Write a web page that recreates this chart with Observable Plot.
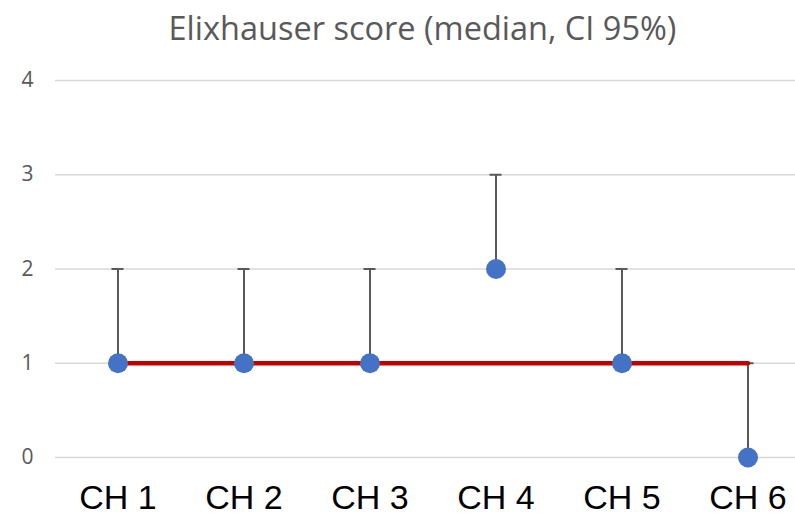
<!DOCTYPE html>
<html>
<head>
<meta charset="utf-8">
<script src="https://cdn.jsdelivr.net/npm/d3@7"></script>
<script src="https://cdn.jsdelivr.net/npm/@observablehq/plot@0.6"></script>
<style>
  html, body { margin: 0; padding: 0; background: #fff; }
  #wrap { width: 795px; height: 518px; overflow: hidden; }
  #title { height: 60px; line-height: 56px; text-align: center; font-family: "Open Sans", sans-serif; font-weight: 400; font-size: 32.5px; color: #595959; padding-left: 50px; box-sizing: border-box; white-space: nowrap; }
</style>
</head>
<body>
<div id="wrap">
  <div id="title">Elixhauser score (median, CI 95%)</div>
  <div id="chart"></div>
</div>
<script>
const categories = ["CH 1", "CH 2", "CH 3", "CH 4", "CH 5", "CH 6"];
const medians = [1, 1, 1, 2, 1, 0];
const upper = [2, 2, 2, 3, 2, 1];
const reference = [1, 1, 1, 1, 1, 1];
const yTicks = [0, 1, 2, 3, 4];

const rows = categories.map((c, i) => ({cat: c, median: medians[i], upper: upper[i], ref: reference[i]}));

const chart = Plot.plot({
  width: 795,
  height: 458,
  marginTop: 20,
  marginBottom: 61,
  marginLeft: 55,
  marginRight: 0,
  x: {type: "band", domain: categories, paddingInner: 0.5, paddingOuter: 0.1865, align: 0.67, label: null},
  y: {domain: [0, 4], ticks: yTicks, label: null},
  style: {background: "#fff"},
  marks: [
    Plot.ruleY(yTicks, {stroke: "#d9d9d9", strokeWidth: 1.5}),
    Plot.axisY({ticks: yTicks, tickFormat: "d", tickSize: 0, tickPadding: 22, fontSize: 21, fill: "#595959", fontFamily: "Open Sans, sans-serif", label: null}),
    Plot.axisX({tickSize: 0, tickPadding: 27, fontSize: 34, fill: "#000", fontFamily: "Liberation Sans, Arial, sans-serif", label: null}),
    Plot.ruleX(rows, {x: "cat", y1: "median", y2: "upper", stroke: "#595959", strokeWidth: 2}),
    Plot.tickY(rows, {x: "cat", y: "upper", stroke: "#595959", strokeWidth: 2, insetLeft: 25.5, insetRight: 25.5}),
    Plot.line(rows, {x: "cat", y: "ref", stroke: "#C00000", strokeWidth: 4.5}),
    Plot.dot(rows, {x: "cat", y: "median", r: 10, fill: "#4472C4", stroke: "none"})
  ]
});
document.getElementById("chart").appendChild(chart);
</script>
</body>
</html>
